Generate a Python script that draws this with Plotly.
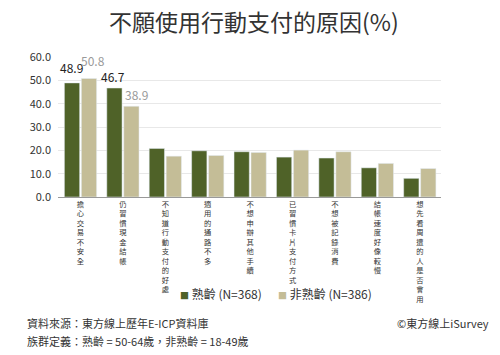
import plotly.graph_objects as go

categories = ["擔心交易不安全", "仍習慣現金結帳", "不知道行動支付的好處", "適用的通路不多",
              "不想申辦其他手續", "已習慣卡片支付方式", "不想被記錄消費", "結帳速度好像較慢",
              "想先看周遭的人是否會用"]
senior = [48.9, 46.7, 20.8, 19.8, 19.4, 17.1, 16.7, 12.5, 8.0]
nonsenior = [50.8, 38.9, 17.5, 17.8, 19.1, 20.1, 19.4, 14.4, 12.2]
senior_labels = ["48.9", "46.7"]
nonsenior_labels = ["50.8", "38.9"]
series_names = ["熟齡 (N=368)", "非熟齡 (N=386)"]
tick_vals = [0, 10, 20, 30, 40, 50, 60]

GREEN, BEIGE = "#4f6228", "#c4bd97"
FONT = "Noto Sans CJK TC"
OFF = 8  # page body margin offset
W, H = 500 - OFF, 355 - OFF
PL, PR, PT, PB = 58, 441, 57, 197
L, T = PL - OFF, PT - OFF
R = W - (PR - OFF)
B = H - (PB - OFF)
ph = PB - PT
pw = PR - PL

def px_x(x):
    return (x - PL) / pw

def px_y(y):
    return (PB - y) / ph

vert = ["<br>".join(list(c)) for c in categories]

fig = go.Figure()
fig.add_trace(go.Bar(x=vert, y=senior, name=series_names[0], marker_color=GREEN,
                     showlegend=False))
fig.add_trace(go.Bar(x=vert, y=nonsenior, name=series_names[1], marker_color=BEIGE,
                     showlegend=False))

# value labels for the first two categories
for i, txt in enumerate(senior_labels):
    xs, ys = (-9, 15) if i == 0 else (-10, 12)
    fig.add_annotation(x=vert[i], y=senior[i], text=txt, showarrow=False, xshift=xs, yshift=ys,
                       yanchor="middle", font=dict(size=12, color="#222222", family=FONT))
for i, txt in enumerate(nonsenior_labels):
    xs, ys = (12, 18) if i == 0 else (14, 11.5)
    fig.add_annotation(x=vert[i], y=nonsenior[i], text=txt, showarrow=False, xshift=xs, yshift=ys,
                       yanchor="middle", font=dict(size=12, color="#9a9a9a", family=FONT))

fig.update_layout(
    width=W, height=H,
    margin=dict(l=L, r=R, t=T, b=B, autoexpand=False),
    paper_bgcolor="white", plot_bgcolor="white",
    barmode="group", bargap=0.2, bargroupgap=0.1,
    font=dict(family=FONT, color="#333333"),
    showlegend=False,
)
fig.add_annotation(text="不願使用行動支付的原因(%)", xref="paper", yref="paper",
                   x=px_x(254), y=px_y(21), xanchor="center", yanchor="middle",
                   showarrow=False, font=dict(size=23, color="#333333", family=FONT))
fig.update_xaxes(showline=True, linecolor="#999999", linewidth=1, ticks="",
                 tickfont=dict(size=7.3, color="#333333", family=FONT), tickangle=0,
                 showgrid=False, automargin=False)
fig.update_yaxes(range=[0, 60], tickvals=tick_vals, tickformat=".1f", showline=False,
                 gridcolor="#e8e8e8", gridwidth=1, zeroline=False, automargin=False,
                 ticklabelstandoff=6,
                 tickfont=dict(size=11, color="#333333", family=FONT), ticks="")

# legend (drawn as text with coloured squares)
fig.add_annotation(text=f"<span style='color:{GREEN};font-size:9px'>■</span> {series_names[0]}",
                   xref="paper", yref="paper", x=px_x(178), y=px_y(293), xanchor="left",
                   yanchor="middle", showarrow=False,
                   font=dict(size=12, color="#333333", family=FONT))
fig.add_annotation(text=f"<span style='color:{BEIGE};font-size:9px'>■</span> {series_names[1]}",
                   xref="paper", yref="paper", x=px_x(276), y=px_y(293), xanchor="left",
                   yanchor="middle", showarrow=False,
                   font=dict(size=12, color="#333333", family=FONT))

fig.add_annotation(text="資料來源：東方線上歷年E-ICP資料庫", xref="paper", yref="paper",
                   x=px_x(25), y=px_y(323), xanchor="left", yanchor="middle", showarrow=False,
                   font=dict(size=11, color="#333333", family=FONT))
fig.add_annotation(text="族群定義：熟齡 = 50-64歲，非熟齡 = 18-49歲", xref="paper", yref="paper",
                   x=px_x(25), y=px_y(341), xanchor="left", yanchor="middle", showarrow=False,
                   font=dict(size=11, color="#333333", family=FONT))
fig.add_annotation(text="©東方線上iSurvey", xref="paper", yref="paper",
                   x=px_x(491), y=px_y(323), xanchor="right", yanchor="middle", showarrow=False,
                   font=dict(size=11, color="#333333", family=FONT))

fig.write_html("out.html")
